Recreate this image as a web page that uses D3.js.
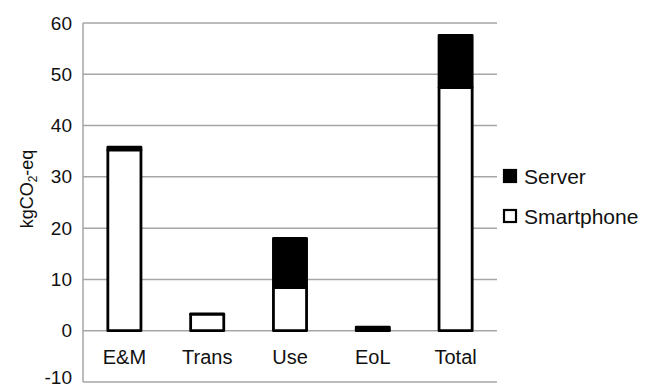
<!DOCTYPE html>
<html>
<head>
<meta charset="utf-8">
<script src="https://cdn.jsdelivr.net/npm/d3@7"></script>
<style>
  html, body { margin: 0; padding: 0; background: #fff; }
  svg { display: block; font-family: "Liberation Sans", Arial, sans-serif; }
</style>
</head>
<body>
<svg id="chart" width="658" height="388"></svg>
<script>
const categories = ["E&M", "Trans", "Use", "EoL", "Total"];
const smartphone = [35.2, 3.2, 8.4, 0.1, 47.4];
const server = [0.6, 0.1, 9.6, 0.6, 10.2];
const yTicks = [-10, 0, 10, 20, 30, 40, 50, 60];
const seriesNames = ["Server", "Smartphone"];

const svg = d3.select("#chart");
const plotL = 83, plotR = 497, plotT = 23, plotB = 382;

const x = d3.scaleBand().domain(categories).range([plotL, plotR])
  .paddingInner(0.6).paddingOuter(0.3);
const y = d3.scaleLinear().domain([-10, 60]).range([plotB, plotT]);

const gridColor = "#a6a6a6";

// gridlines
svg.append("g").selectAll("line").data(yTicks).join("line")
  .attr("x1", plotL).attr("x2", plotR)
  .attr("y1", d => y(d)).attr("y2", d => y(d))
  .attr("stroke", gridColor).attr("stroke-width", 1.5);

// y axis line
svg.append("line").attr("x1", plotL).attr("x2", plotL)
  .attr("y1", y(60)).attr("y2", y(-10))
  .attr("stroke", gridColor).attr("stroke-width", 1.5);

// y tick labels
const yAxis = d3.axisLeft(y).tickValues(yTicks).tickSize(0).tickPadding(11)
  .tickFormat(d => String(d));
const ya = svg.append("g").attr("transform", `translate(${plotL},0)`).call(yAxis);
ya.select(".domain").remove();
ya.selectAll("text").attr("font-size", 19).attr("fill", "#111")
  .attr("font-family", "Liberation Sans, Arial, sans-serif")
  .attr("dy", d => d === -10 ? "0.1em" : "0.32em");

// category labels
const xAxis = d3.axisBottom(x).tickSize(0).tickPadding(0);
const xa = svg.append("g").attr("transform", `translate(0,${y(0)})`).call(xAxis);
xa.select(".domain").remove();
xa.selectAll("text").attr("font-size", 20).attr("fill", "#111")
  .attr("dy", null).attr("y", 33)
  .attr("font-family", "Liberation Sans, Arial, sans-serif");

// bars
const data = categories.map((c, i) => ({ c, s: smartphone[i], v: server[i] }));
const bars = svg.append("g");
bars.selectAll("rect.srv").data(data).join("rect").attr("class", "srv")
  .attr("x", d => x(d.c)).attr("width", x.bandwidth())
  .attr("y", d => y(d.s + d.v)).attr("height", d => y(d.s) - y(d.s + d.v))
  .attr("fill", "#000").attr("stroke", "#000").attr("stroke-width", 2.8)
  .attr("stroke-linejoin", "round");
bars.selectAll("rect.sp").data(data).join("rect").attr("class", "sp")
  .attr("x", d => x(d.c)).attr("width", x.bandwidth())
  .attr("y", d => y(d.s)).attr("height", d => y(0) - y(d.s))
  .attr("fill", "#fff").attr("stroke", "#000").attr("stroke-width", 2.8)
  .attr("stroke-linejoin", "round");

// y title
const yt = svg.append("text")
  .attr("transform", "translate(33,189) rotate(-90)")
  .attr("text-anchor", "middle").attr("font-size", 18).attr("fill", "#111");
yt.append("tspan").text("kgCO");
yt.append("tspan").text("2").attr("font-size", 12).attr("dy", 4);
yt.append("tspan").text("-eq").attr("dy", -4);

// legend
const legend = svg.append("g");
const ly = [176, 216];
seriesNames.forEach((name, i) => {
  legend.append("rect")
    .attr("x", 504).attr("y", ly[i] - 6).attr("width", 12).attr("height", 12)
    .attr("fill", i === 0 ? "#000" : "#fff")
    .attr("stroke", "#000").attr("stroke-width", 2.2);
  legend.append("text").attr("x", 524).attr("y", ly[i] + 7.5)
    .attr("font-size", 21).attr("fill", "#111").text(name);
});
</script>
</body>
</html>
